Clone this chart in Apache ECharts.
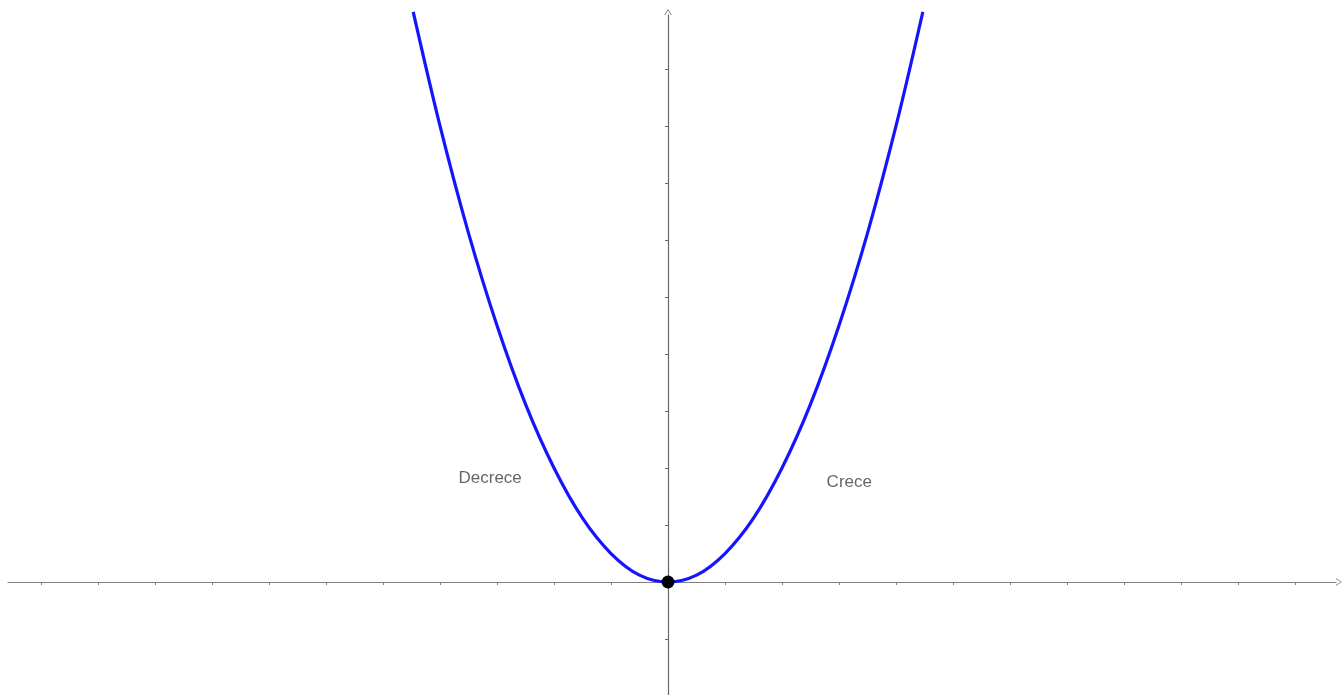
<!DOCTYPE html>
<html>
<head>
<meta charset="utf-8">
<script src="https://cdn.jsdelivr.net/npm/echarts@6/dist/echarts.min.js"></script>
<style>
html,body{margin:0;padding:0;background:#fff;}
#chart{width:1343px;height:695px;}
</style>
</head>
<body>
<div id="chart"></div>
<script>
// Parabola points (x in tick units, y in tick units)
const curveX = [-4.47, -4, -3.5, -3, -2.5, -2, -1.5, -1, -0.5, 0, 0.5, 1, 1.5, 2, 2.5, 3, 3.5, 4, 4.47];
const curveY = [10, 8, 6.12, 4.5, 3.12, 2, 1.12, 0.5, 0.12, 0, 0.12, 0.5, 1.12, 2, 3.12, 4.5, 6.12, 8, 10];
// Vertex point
const vertex = [0, 0];
// Labels
const labelNames = ['Decrece', 'Crece'];
const labelX = [-3.12, 3.18];
const labelY = [1.82, 1.75];
// Tick values
const xTicks = [-11, -10, -9, -8, -7, -6, -5, -4, -3, -2, -1, 0, 1, 2, 3, 4, 5, 6, 7, 8, 9, 10, 11];
const yTicks = [-1, 0, 1, 2, 3, 4, 5, 6, 7, 8, 9];

const chart = echarts.init(document.getElementById('chart'), null, {renderer: 'canvas'});
const chevron = 'path://M5,0 L10,8 L8.8,8 L5,1.6 L1.2,8 L0,8 Z';
const axisColor = '#666';

chart.setOption({
  animation: false,
  backgroundColor: '#fff',
  grid: {left: 8, right: 7, top: 15, bottom: 0, containLabel: false},
  xAxis: {
    type: 'value',
    min: -11.579, max: 11.719,
    axisLine: {show: true, onZero: true, lineStyle: {color: '#808080', width: 1.2}, symbol: ['none', chevron], symbolSize: [9, 6], symbolOffset: [0, 3]},
    axisTick: {show: true, length: 3, customValues: xTicks, lineStyle: {color: '#808080'}},
    axisLabel: {show: false},
    splitLine: {show: false}
  },
  yAxis: {
    type: 'value',
    min: -1.982, max: 9.947,
    axisLine: {show: true, onZero: true, lineStyle: {color: axisColor, width: 1.2}, symbol: ['none', chevron], symbolSize: [9, 6], symbolOffset: [0, 3]},
    axisTick: {show: true, length: 3, customValues: yTicks, lineStyle: {color: axisColor}},
    axisLabel: {show: false},
    splitLine: {show: false}
  },
  series: [
    {
      type: 'line',
      data: curveX.map((x, i) => [x, curveY[i]]),
      smooth: 0.35,
      showSymbol: false,
      clip: false,
      lineStyle: {color: '#1414ff', width: 3.2},
      z: 3
    },
    {
      type: 'scatter',
      data: [vertex],
      symbolSize: 13,
      itemStyle: {color: '#000', opacity: 1},
      z: 5
    },
    {
      type: 'scatter',
      data: labelNames.map((n, i) => ({name: n, value: [labelX[i], labelY[i]]})),
      symbolSize: 0,
      label: {
        show: true, position: 'inside', formatter: '{b}',
        fontFamily: 'Liberation Sans, Arial, sans-serif', fontSize: 17, color: '#404040'
      },
      z: 4
    }
  ]
});
</script>
</body>
</html>
